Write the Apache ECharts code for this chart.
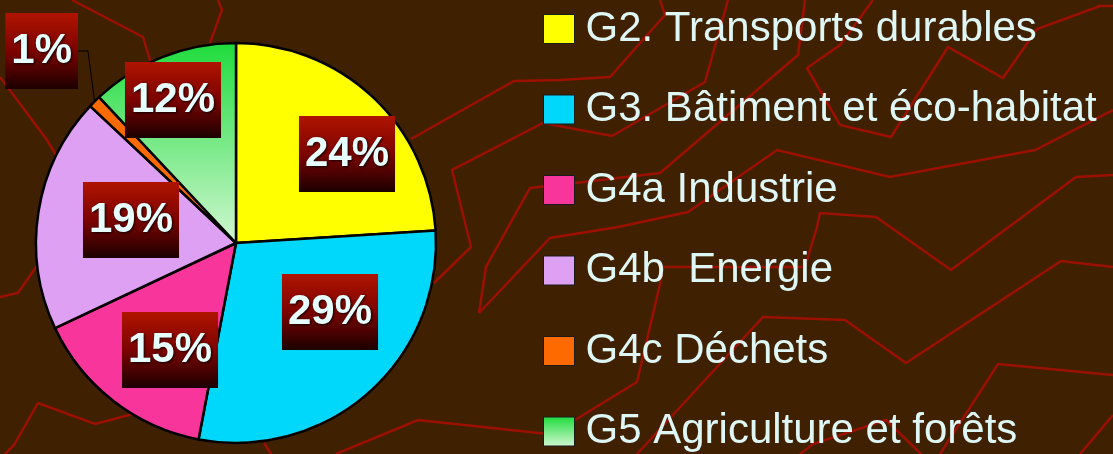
<!DOCTYPE html>
<html>
<head>
<meta charset="utf-8">
<script src="https://cdn.jsdelivr.net/npm/echarts@6/dist/echarts.min.js"></script>
<style>
  html, body { margin: 0; padding: 0; background: #3f2000; }
  #chart { width: 1113px; height: 454px; }
</style>
</head>
<body>
<div id="chart"></div>
<script>
// ---- data ----
const categories = [
  'G2. Transports durables',
  'G3. Bâtiment et éco-habitat',
  'G4a Industrie',
  'G4b  Energie',
  'G4c Déchets',
  'G5 Agriculture et forêts'
];
const shares = [24, 29, 15, 19, 1, 12];

// ---- styling / layout (not data) ----
const sliceColors = [
  '#ffff00',
  '#00d8fb',
  '#f8359a',
  '#dda0f2',
  '#ff6a00',
  { type: 'linear', x: 0, y: 0, x2: 0, y2: 1,
    colorStops: [{ offset: 0, color: '#1edc3c' }, { offset: 1, color: '#d2f7d2' }] }
];
// label anchor spots (x, y) for each slice's percentage box
const labelSpots = [[347, 154], [330, 312], [170, 350], [131, 220], [78, 51], [173, 100]];

// decorative background zig-zag lines
const bgLines = [
  [[411,139],[514,81],[560,80],[610,77],[665,15],[660,0]],
  [[434,283],[471,247],[452,170],[543,123],[612,136],[705,82],[728,0]],
  [[479,313],[486,267],[530,188],[575,183],[660,173],[798,55],[805,0]],
  [[873,0],[840,45],[807,68],[840,125],[891,137],[948,47],[1003,78],[1037,29],[1100,6],[1113,6]],
  [[479,313],[550,238],[618,227],[688,212],[777,150],[890,177],[1035,150],[1113,110]],
  [[575,420],[637,382],[660,284],[663,267],[805,267],[817,227],[820,213],[876,217],[951,270],[1076,177],[1113,175]],
  [[637,454],[763,317],[845,320],[906,363],[1061,261],[1113,267]],
  [[940,454],[998,364],[1113,375]],
  [[1080,454],[1113,415]],
  [[800,454],[813,444],[886,420],[921,454]],
  [[336,454],[418,420],[557,435]],
  [[72,0],[143,37],[150,60],[165,90]],
  [[218,0],[222,10],[210,43]],
  [[0,77],[47,140],[65,170]],
  [[0,297],[18,293],[36,267],[55,245]],
  [[5,454],[14,445],[38,403],[95,424],[129,415],[150,410]],
  [[264,443],[271,454]]
];

const labelBg = { type: 'linear', x: 0, y: 0, x2: 0, y2: 1,
  colorStops: [
    { offset: 0, color: '#b01400' },
    { offset: 0.5, color: '#7c0300' },
    { offset: 1, color: '#1c0000' }
  ] };

const chart = echarts.init(document.getElementById('chart'), null, { renderer: 'canvas' });

const pieData = categories.map((name, i) => ({
  name,
  value: shares[i],
  itemStyle: { color: sliceColors[i] },
  label: i === 4 ? { position: 'outside' } : { position: 'inside' },
  labelLine: i === 4 ? { show: true } : { show: false }
}));

chart.setOption({
  backgroundColor: '#3f2000',
  animation: false,
  graphic: bgLines.map(pts => ({
    type: 'polyline',
    silent: true,
    z: -10,
    shape: { points: pts },
    style: { stroke: '#9c1000', lineWidth: 2.5, fill: null }
  })),
  legend: {
    orient: 'vertical',
    left: 538,
    top: 3,
    height: 560,
    itemWidth: 31,
    itemHeight: 29,
    itemGap: 38.5,
    icon: 'rect',
    itemStyle: { borderColor: '#1a1a1a', borderWidth: 1 },
    textStyle: {
      color: '#def7f5',
      fontSize: 42,
      fontFamily: 'Liberation Sans, Arial, sans-serif',
      padding: [0, 0, 0, 6]
    },
    data: categories
  },
  series: [{
    type: 'pie',
    center: [236, 243],
    radius: 200,
    startAngle: 90,
    clockwise: true,
    avoidLabelOverlap: false,
    itemStyle: { borderColor: '#000', borderWidth: 2.5 },
    label: {
      show: true,
      formatter: '{c}%',
      color: '#e8ffff',
      fontSize: 42,
      fontWeight: 'bold',
      fontFamily: 'Liberation Sans, Arial, sans-serif',
      lineHeight: 42,
      backgroundColor: labelBg,
      padding: [14, 6, 20, 6],
      textShadowColor: 'rgba(0,0,0,0.85)',
      textShadowBlur: 3,
      textShadowOffsetX: 1,
      textShadowOffsetY: 1
    },
    labelLine: {
      length: 10,
      length2: 10,
      lineStyle: { color: '#000', width: 1 }
    },
    labelLayout: function (params) {
      const s = labelSpots[params.dataIndex];
      return { x: s[0], y: s[1] };
    },
    emphasis: { disabled: true },
    data: pieData
  }]
});
</script>
</body>
</html>
